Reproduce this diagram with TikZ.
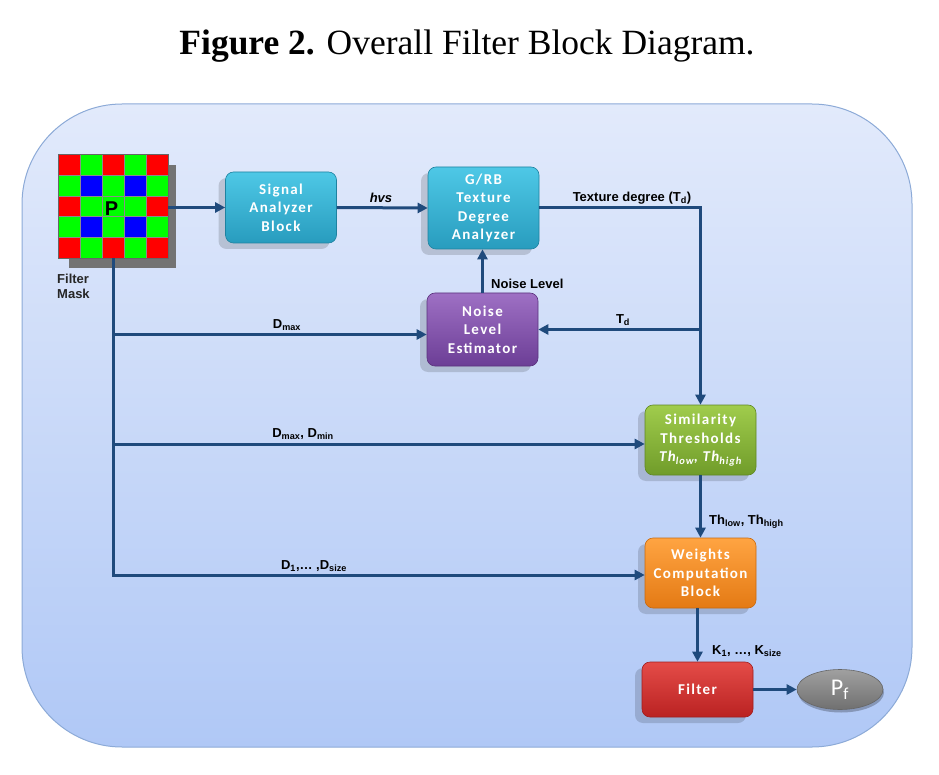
\documentclass[tikz,border=0pt]{standalone}
\usepackage{fontspec}
\setmainfont{Liberation Serif}
\newfontfamily\labfont{Liberation Sans}
\newfontfamily\boxfont[LetterSpace=9]{Carlito}
\usetikzlibrary{arrows.meta,calc,shadows,shapes.geometric}
\definecolor{bgtop}{RGB}{226,234,251}
\definecolor{bgbot}{RGB}{176,200,246}
\definecolor{bgline}{RGB}{140,170,215}
\definecolor{arrc}{RGB}{31,74,124}
\definecolor{tealT}{RGB}{78,200,230}
\definecolor{tealB}{RGB}{40,156,190}
\definecolor{tealD}{RGB}{30,130,160}
\definecolor{purT}{RGB}{158,112,196}
\definecolor{purB}{RGB}{108,62,150}
\definecolor{purD}{RGB}{90,50,125}
\definecolor{grnT}{RGB}{160,204,76}
\definecolor{grnB}{RGB}{112,156,42}
\definecolor{grnD}{RGB}{95,135,35}
\definecolor{orT}{RGB}{255,164,66}
\definecolor{orB}{RGB}{228,122,20}
\definecolor{orD}{RGB}{200,105,15}
\definecolor{redT}{RGB}{228,76,72}
\definecolor{redB}{RGB}{186,34,34}
\definecolor{redD}{RGB}{160,30,30}
\definecolor{gryT}{RGB}{160,160,160}
\definecolor{gryB}{RGB}{112,112,112}
\definecolor{mR}{RGB}{255,0,0}
\definecolor{mG}{RGB}{0,255,0}
\definecolor{mB}{RGB}{0,0,255}
\tikzset{
  block/.style={rounded corners=8pt, align=center, text=white, inner sep=0pt,
    font=\boxfont\bfseries\fontsize{15}{18.5}\selectfont, line width=0.6pt,
    minimum width=111pt,
    drop shadow={shadow xshift=-7pt, shadow yshift=-6pt, opacity=0.15, fill=black}},
  teal/.style={block, top color=tealT, bottom color=tealB, draw=tealD},
  purp/.style={block, top color=purT, bottom color=purB, draw=purD},
  grn/.style={block, top color=grnT, bottom color=grnB, draw=grnD},
  orng/.style={block, top color=orT, bottom color=orB, draw=orD},
  redb/.style={block, top color=redT, bottom color=redB, draw=redD},
  arr/.style={draw=arrc, line width=3pt, -{Triangle[length=10pt,width=10pt]}},
  wire/.style={draw=arrc, line width=3pt},
  lab/.style={font=\labfont\bfseries\fontsize{13}{15}\selectfont, text=black, inner sep=0pt},
  cell/.style={draw=black!45, line width=0.4pt}
}
\begin{document}
\begin{tikzpicture}[x=1pt,y=-1pt]
\useasboundingbox (0,0) rectangle (939,775);
% title
\node[font=\fontsize{35.5}{40}\selectfont, inner sep=0pt] (title) at (467,46)
  {\textbf{Figure 2.} Overall Filter Block Diagram.};
% background
\draw[bgline, line width=1pt, top color=bgtop, bottom color=bgbot, rounded corners=100pt]
  (22,104) rectangle (912,747);
% filter mask
\fill[black!55] (69,165) rectangle (176,268);
\node[minimum width=109pt, minimum height=103pt, inner sep=0pt] (mask) at (113.5,206.5) {};
\foreach \r/\cols in {0/{mR,mG,mR,mG,mR},1/{mG,mB,mG,mB,mG},2/{mR,mG,mG,mG,mR},3/{mG,mB,mG,mB,mG},4/{mR,mG,mR,mG,mR}}{
  \foreach \c [count=\i from 0] in \cols {
    \fill[\c] ($(mask.north west)+(\i*21.8,\r*20.6)$) rectangle ++(21.8,20.6);
  }
}
\foreach \k in {1,...,4}{
  \draw[cell] ($(mask.north west)+(\k*21.8,0)$) -- ++(0,103);
  \draw[cell] ($(mask.north west)+(0,\k*20.6)$) -- ++(109,0);
}
\draw[black!60, line width=1pt] (mask.north west) rectangle (mask.south east);
\node[font=\labfont\bfseries\fontsize{20}{20}\selectfont, inner sep=0pt] (pP) at ($(mask.center)+(-2,2)$) {P};
\node[lab, anchor=north west, align=left, text=black!85] (masklab) at (57,274) {Filter\\Mask};
% blocks
\node[teal, minimum height=71pt] (sig) at (281,207.5) {Signal\\Analyzer\\Block};
\node[teal, minimum height=82pt] (grb) at (483.5,208) {G/RB\\Texture\\Degree\\Analyzer};
\node[purp, minimum height=73pt] (nle) at (482.5,329.5) {Noise\\Level\\Estimator};
\node[grn, minimum height=70pt] (sim) at (700.5,440)
  {Similarity\\Thresholds\\{\itshape Th\textsubscript{low}, Th\textsubscript{high}}};
\node[orng, minimum height=70pt] (wgt) at (700.5,573) {Weights\\Computation\\Block};
\node[redb, minimum height=55pt] (flt) at (697.5,689.5) {Filter};
\node[ellipse, minimum width=86pt, minimum height=40pt, inner sep=0pt, top color=gryT, bottom color=gryB,
  draw=black!60, line width=0.6pt, text=white, font=\boxfont\fontsize{24}{24}\selectfont,
  drop shadow={shadow xshift=1pt, shadow yshift=-3pt, opacity=0.25, fill=black}] (pf) at (840,689.5)
  {P\textsubscript{f}};
% connectors
\draw[arr] (mask.east |- sig.west) -- (sig.west);
\draw[arr] (sig.east) -- (grb.west);
\draw[arr] (grb.east) -- (grb.east -| sim.north) -- (sim.north);
\coordinate (tdj) at (sim.north |- nle.east);
\draw[arr] (tdj) -- (nle.east);
\draw[arr] (nle.north) -- (nle.north |- grb.south);
\coordinate (nin) at ($(nle.west)+(0,5)$);
\coordinate (sin) at ($(sim.west)+(0,4)$);
\coordinate (win) at ($(wgt.west)+(0,2)$);
\draw[wire] (mask.south) -- (mask.south |- win);
\draw[arr] ($(mask.south |- win)+(-1.5,0)$) -- (win);
\draw[arr] (mask.south |- nin) -- (nin);
\draw[arr] (mask.south |- sin) -- (sin);
\draw[arr] (sim.south) -- (wgt.north);
\draw[arr] (wgt.south -| flt.north) -- (flt.north);
\draw[arr] (flt.east) -- (pf.west);
% labels
\node[lab, font=\labfont\bfseries\itshape\fontsize{13}{15}\selectfont] (lhvs) at (381,198) {hvs};
\node[lab] (ltex) at (632,198) {Texture degree (T\textsubscript{d})};
\node[lab, anchor=west] (lnoise) at (491,284) {Noise Level};
\node[lab] (ltd) at (623,320) {T\textsubscript{d}};
\node[lab] (ldmax) at (287,325) {D\textsubscript{max}};
\node[lab] (ldmm) at (303,434) {D\textsubscript{max}, D\textsubscript{min}};
\node[lab] (ld1) at (314,566) {D\textsubscript{1},\dots\ ,D\textsubscript{size}};
\node[lab, anchor=west] (lth) at (709,522) {Th\textsubscript{low}, Th\textsubscript{high}};
\node[lab, anchor=west] (lk) at (712,651) {K\textsubscript{1}, \dots, K\textsubscript{size}};
\end{tikzpicture}
\end{document}
